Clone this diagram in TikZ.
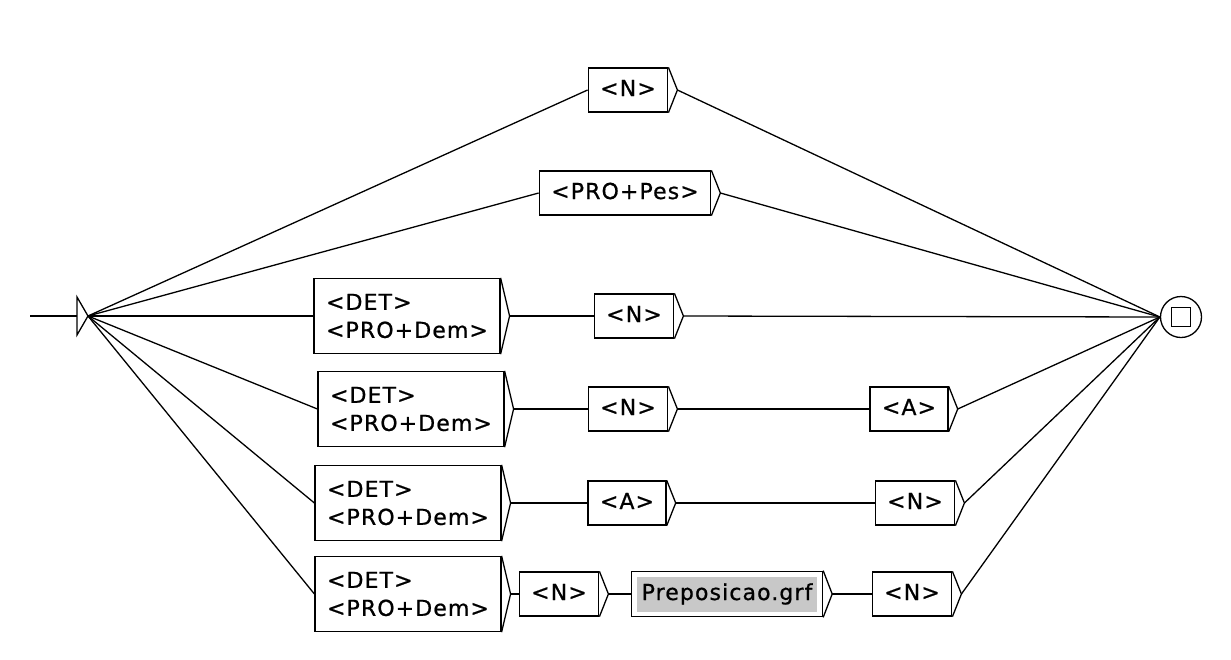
\documentclass[tikz,border=0pt]{standalone}
\usepackage{fontspec}
\usepackage{xcolor}
\usepackage{tikz}
\usetikzlibrary{calc, fit}

\newfontfamily\unifont[LetterSpace=5, FakeBold=0.8]{DejaVu Sans}
\newcommand{\boxfont}{\unifont\fontsize{22}{28}\selectfont}
\definecolor{grfgray}{RGB}{200,200,200}

\tikzset{
	unibox/.style={draw, line width=1.3, inner xsep=12, inner ysep=0, minimum height=44, text height=16, text depth=4, font=\boxfont},
	multibox/.style={draw, line width=1.3, inner xsep=12, inner ysep=0, minimum height=75, align=left, font=\boxfont},
	link/.style={line width=1.3}
}

\begin{document}
\begin{tikzpicture}[x=1pt, y=-1pt]
			\useasboundingbox[fill=white] (0,0) rectangle (1231,659);

			% initial and final states
			\coordinate (start) at (30,316);
			\coordinate (init) at (88,316);
			\draw[link] (start) -- (77,316);
			\draw[link] (77,297) -- (init) -- (77,335) -- cycle;

			\node[circle, draw, line width=1.3, minimum size=41, inner sep=0] (fin) at (1181,317) {};
			\draw[line width=1.3] ($(fin)+(-9.5,-9.5)$) rectangle ($(fin)+(9.5,9.5)$);

			% boxes
			\node[unibox] (n1) at (628,90) {<N>};
			\node[unibox] (pes) at (625,193) {<PRO+Pes>};

			\node[multibox] (det3) at (407,316) {<DET>\\<PRO+Dem>};
			\node[unibox] (n3) at (634,316) {<N>};

			\node[multibox] (det4) at (411,409) {<DET>\\<PRO+Dem>};
			\node[unibox] (n4) at (628,409) {<N>};
			\node[unibox] (a4) at (909,409) {<A>};

			\node[multibox] (det5) at (408,503) {<DET>\\<PRO+Dem>};
			\node[unibox] (a5) at (627,503) {<A>};
			\node[unibox] (n5) at (915,503) {<N>};

			\node[multibox] (det6) at (408,594) {<DET>\\<PRO+Dem>};
			\node[unibox] (n6) at (559,594) {<N>};
			\node[fill=grfgray, inner xsep=5, inner ysep=0, minimum height=35, text height=16, text depth=4, font=\boxfont] (prep) at (727,594) {Preposicao.grf};
			\node[draw, line width=1.3, fit=(prep), inner sep=5] (prepbox) {};
			\node[unibox] (m6) at (912,594) {<N>};

			% output chevrons
			\foreach \b in {n1, pes, det3, n3, det4, n4, a4, det5, a5, n5, det6, n6, prepbox, m6}
			{
				\coordinate (\b-o) at ([xshift=9]\b.east);
				\draw[link] (\b.north east) -- (\b-o) -- (\b.south east);
			}

			% transitions
			\foreach \b in {n1, pes, det3, det4, det5, det6}
			{
				\draw[link] (init) -- (\b.west);
			}
			\foreach \b in {n1, pes, n3, a4, n5, m6}
			{
				\draw[link] (\b-o) -- (fin.west);
			}

			\draw[link] (det3-o) -- (n3.west);
			\draw[link] (det4-o) -- (n4.west);
			\draw[link] (n4-o) -- (a4.west);
			\draw[link] (det5-o) -- (a5.west);
			\draw[link] (a5-o) -- (n5.west);
			\draw[link] (det6-o) -- (n6.west);
			\draw[link] (n6-o) -- (prepbox.west);
			\draw[link] (prepbox-o) -- (m6.west);
		\end{tikzpicture}
\end{document}
